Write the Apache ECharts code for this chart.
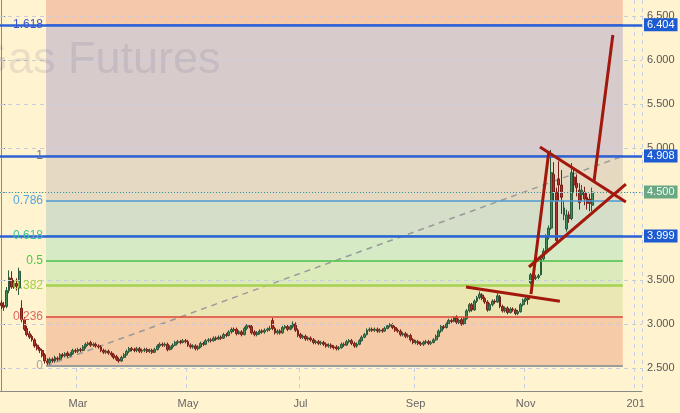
<!DOCTYPE html>
<html>
<head>
<meta charset="utf-8">
<script src="https://cdn.jsdelivr.net/npm/echarts@6/dist/echarts.min.js"></script>
<style>
html,body{margin:0;padding:0;background:#FFF3D0;}
#c{width:680px;height:413px;}
</style>
</head>
<body>
<div id="c"></div>
<script>
// ---------- DATA ----------
const startDate = '2018-01-18';
const endDate = '2019-01-03';
const tickDates = ['2018-03-01','2018-05-01','2018-07-02','2018-09-03','2018-11-01','2019-01-01'];
const tickLabels = ['Mar','May','Jul','Sep','Nov','201'];
const yTicks = [2.5,3,3.5,4,4.5,5,5.5,6,6.5];
const yMin = 2.239, yMax = 6.682;

// [open, close, low, high]
const candles = [
[3.24,3.21,3.17,3.27],[3.21,3.19,3.15,3.25],[3.20,3.38,3.18,3.42],[3.38,3.53,3.35,3.61],[3.52,3.42,3.40,3.60],
[3.43,3.46,3.40,3.50],[3.46,3.43,3.38,3.52],[3.41,3.60,3.33,3.64],[3.18,3.05,3.02,3.27],[3.05,2.94,2.92,3.08],
[2.95,2.88,2.86,2.98],[2.89,2.85,2.83,2.92],[2.86,2.82,2.80,2.88],[2.82,2.75,2.73,2.84],[2.76,2.72,2.70,2.78],
[2.72,2.70,2.67,2.74],[2.70,2.64,2.62,2.72],[2.65,2.58,2.55,2.67],[2.58,2.56,2.525,2.61],[2.56,2.60,2.54,2.62],
[2.60,2.58,2.56,2.62],[2.58,2.62,2.56,2.64],[2.61,2.60,2.58,2.63],[2.60,2.65,2.59,2.67],[2.65,2.64,2.62,2.67],
[2.64,2.66,2.62,2.68],[2.67,2.64,2.62,2.69],[2.64,2.66,2.63,2.68],[2.66,2.70,2.65,2.72],[2.70,2.69,2.67,2.72],
[2.69,2.71,2.67,2.73],[2.71,2.70,2.68,2.73],[2.70,2.74,2.69,2.76],[2.74,2.77,2.72,2.79],[2.77,2.78,2.75,2.80],
[2.79,2.76,2.74,2.81],[2.76,2.77,2.74,2.79],[2.77,2.75,2.73,2.79],[2.75,2.74,2.72,2.77],[2.74,2.70,2.68,2.76],
[2.70,2.68,2.66,2.72],[2.68,2.69,2.66,2.71],[2.69,2.67,2.65,2.71],[2.67,2.65,2.63,2.69],[2.65,2.62,2.60,2.67],
[2.63,2.60,2.58,2.65],[2.60,2.58,2.56,2.62],[2.58,2.62,2.57,2.64],[2.62,2.65,2.61,2.67],[2.65,2.69,2.64,2.71],
[2.69,2.72,2.67,2.74],[2.72,2.71,2.69,2.74],[2.71,2.70,2.68,2.73],[2.70,2.72,2.68,2.74],[2.72,2.69,2.67,2.74],
[2.69,2.70,2.67,2.72],[2.70,2.71,2.68,2.73],[2.71,2.69,2.67,2.73],[2.69,2.70,2.67,2.72],[2.70,2.68,2.66,2.72],
[2.68,2.71,2.67,2.73],[2.71,2.75,2.70,2.77],[2.75,2.77,2.73,2.79],[2.77,2.76,2.74,2.79],[2.76,2.77,2.74,2.79],
[2.77,2.71,2.69,2.79],[2.71,2.74,2.70,2.76],[2.74,2.76,2.72,2.78],[2.76,2.79,2.75,2.81],[2.79,2.80,2.77,2.82],
[2.80,2.79,2.77,2.82],[2.79,2.81,2.78,2.83],[2.81,2.80,2.78,2.83],[2.80,2.76,2.74,2.82],[2.76,2.74,2.72,2.78],
[2.74,2.75,2.72,2.77],[2.75,2.72,2.70,2.77],[2.72,2.74,2.70,2.76],[2.74,2.78,2.73,2.80],[2.78,2.77,2.75,2.80],
[2.77,2.81,2.76,2.83],[2.81,2.82,2.79,2.84],[2.82,2.81,2.79,2.84],[2.81,2.84,2.80,2.86],[2.84,2.83,2.81,2.86],
[2.83,2.85,2.82,2.87],[2.85,2.84,2.82,2.87],[2.84,2.88,2.83,2.90],[2.88,2.87,2.85,2.90],[2.87,2.91,2.86,2.93],
[2.91,2.94,2.89,2.96],[2.94,2.93,2.91,2.96],[2.94,2.89,2.87,2.96],[2.89,2.91,2.88,2.93],[2.91,2.88,2.86,2.93],
[2.88,2.95,2.87,2.97],[2.95,2.98,2.93,3.00],[2.98,2.97,2.95,3.00],[2.97,2.90,2.88,2.99],[2.91,2.88,2.86,2.93],
[2.88,2.90,2.86,2.92],[2.90,2.92,2.88,2.94],[2.92,2.91,2.89,2.94],[2.91,2.93,2.89,2.95],[2.93,2.94,2.91,2.96],
[2.94,2.95,2.92,2.98],[3.04,2.95,2.93,3.07],[2.95,2.90,2.88,2.97],[2.90,2.92,2.88,2.94],[2.92,2.90,2.88,2.94],
[2.90,2.96,2.89,2.98],[2.96,2.97,2.94,2.99],[2.97,2.94,2.92,2.99],[2.94,2.97,2.93,2.99],[2.97,3.00,2.95,3.03],
[3.00,2.93,2.91,3.02],[2.93,2.87,2.85,2.95],[2.88,2.85,2.83,2.90],[2.85,2.86,2.83,2.88],[2.86,2.83,2.81,2.88],
[2.83,2.84,2.81,2.86],[2.84,2.82,2.80,2.86],[2.82,2.79,2.77,2.84],[2.79,2.80,2.77,2.82],[2.80,2.78,2.76,2.82],
[2.78,2.79,2.76,2.81],[2.79,2.77,2.75,2.81],[2.77,2.75,2.73,2.79],[2.75,2.76,2.73,2.78],[2.76,2.74,2.72,2.78],
[2.74,2.73,2.71,2.76],[2.74,2.72,2.70,2.76],[2.72,2.73,2.70,2.75],[2.73,2.77,2.72,2.79],[2.77,2.76,2.74,2.79],
[2.76,2.80,2.75,2.82],[2.80,2.81,2.78,2.83],[2.81,2.78,2.76,2.83],[2.78,2.75,2.73,2.80],[2.75,2.77,2.73,2.79],
[2.77,2.81,2.76,2.83],[2.81,2.85,2.80,2.87],[2.85,2.88,2.84,2.90],[2.88,2.93,2.87,2.95],[2.93,2.94,2.91,2.96],
[2.94,2.93,2.91,2.96],[2.93,2.94,2.91,2.96],[2.94,2.92,2.90,2.96],[2.92,2.93,2.90,2.95],[2.93,2.92,2.90,2.95],
[2.92,2.95,2.91,2.97],[2.95,2.98,2.94,3.00],[2.98,2.99,2.96,3.01],[2.99,2.96,2.94,3.01],[2.96,2.93,2.91,2.98],
[2.93,2.92,2.90,2.95],[2.92,2.88,2.86,2.94],[2.88,2.89,2.86,2.91],[2.89,2.86,2.84,2.91],[2.86,2.87,2.84,2.89],
[2.87,2.82,2.80,2.89],[2.82,2.79,2.77,2.84],[2.79,2.80,2.77,2.82],[2.80,2.78,2.76,2.82],[2.78,2.77,2.75,2.80],
[2.77,2.79,2.75,2.81],[2.79,2.80,2.77,2.82],[2.80,2.78,2.76,2.82],[2.78,2.79,2.76,2.81],[2.79,2.82,2.78,2.84],
[2.82,2.86,2.81,2.88],[2.86,2.92,2.85,2.94],[2.92,2.97,2.90,2.99],[2.97,2.96,2.94,2.99],[2.96,3.00,2.95,3.02],
[3.00,3.04,2.99,3.06],[3.04,3.03,3.01,3.06],[3.03,3.07,3.02,3.09],[3.08,3.02,3.00,3.10],[3.02,3.04,3.00,3.06],
[3.05,3.00,2.98,3.07],[3.00,3.06,2.99,3.08],[3.06,3.15,3.05,3.17],[3.15,3.22,3.13,3.24],[3.22,3.16,3.14,3.24],
[3.16,3.26,3.15,3.28],[3.26,3.30,3.24,3.32],[3.30,3.34,3.28,3.37],[3.33,3.29,3.27,3.35],[3.29,3.25,3.23,3.31],
[3.25,3.16,3.14,3.27],[3.16,3.22,3.15,3.24],[3.22,3.26,3.20,3.28],[3.26,3.25,3.23,3.28],[3.25,3.32,3.24,3.36],
[3.31,3.20,3.18,3.33],[3.20,3.15,3.13,3.22],[3.15,3.18,3.13,3.20],[3.18,3.13,3.11,3.20],[3.13,3.17,3.12,3.19],
[3.17,3.16,3.14,3.19],[3.16,3.12,3.10,3.18],[3.12,3.14,3.10,3.16],[3.14,3.22,3.13,3.24],[3.22,3.27,3.20,3.29],
[3.27,3.29,3.25,3.31],[3.29,3.28,3.22,3.31],[3.47,3.56,3.45,3.58],[3.54,3.52,3.50,3.57],[3.52,3.53,3.50,3.56],
[3.53,3.55,3.51,3.57],[3.56,3.74,3.55,3.76],[3.74,3.83,3.72,3.86],[3.83,3.99,3.81,4.02],[3.99,4.09,3.96,4.12],
[4.09,4.72,4.07,4.98],[4.70,4.50,4.40,4.84],[4.50,3.95,3.90,4.55],[4.65,4.58,4.40,4.85],[4.58,4.44,4.25,4.75],
[4.24,4.32,4.18,4.40],[4.08,4.24,4.05,4.30],[4.24,4.20,4.15,4.28],[4.20,4.72,4.18,4.83],[4.67,4.58,4.50,4.78],
[4.60,4.55,4.45,4.70],[4.52,4.38,4.30,4.60],[4.47,4.52,4.40,4.58],[4.50,4.42,4.35,4.56],[4.44,4.37,4.30,4.50],
[4.42,4.37,4.28,4.48],[4.35,4.50,4.28,4.55]
];

// Fibonacci retracement drawing (bar-index span, level ratios, prices)
const fibStart = 17.5, fibEnd = 243;
const fibRatios = ['0','0.236','0.382','0.5','0.618','0.786','1','1.618'];
const fibPrices = [2.525, 3.087, 3.435, 3.716, 3.999, 4.399, 4.908, 6.404];
const fibLineColors = ['#9C9C9C','#D9473A','#A6D24E','#49C049','#3FB59A','#4D9AD3','#7D8598','#3A62D4'];
const fibLabelColors = ['#A3A3A3','#E0695C','#A2D046','#48C848','#3CC49E','#58A6DD','#6E7890','#3957CC'];
const fibBandColors = ['#F6CBA8','#EBE7B5','#DCEBBA','#D5EAC5','#D4DEC8','#E5D9C1','#D7CBCC','#F4C8A8'];

// marked price levels on the right scale
const priceMarks = [6.404, 4.908, 3.999];
const lastPrice = 4.500;

// hand-drawn trend lines: [[barIndex, price],[barIndex, price]]
const trendLines = [
  [[181.7,3.42],[218.4,3.26]],
  [[207.1,3.34],[214.1,4.966]],
  [[210.6,5.011],[244.2,4.386]],
  [[206.3,3.648],[244.2,4.591]],
  [[231.7,4.614],[239.1,6.284]]
];

// ---------- BUILD ----------
const dates = [];
{
  const d = new Date(startDate + 'T00:00:00Z');
  const end = new Date(endDate + 'T00:00:00Z');
  while (d <= end) {
    const wd = d.getUTCDay();
    if (wd !== 0 && wd !== 6) dates.push(d.toISOString().slice(0,10));
    d.setUTCDate(d.getUTCDate() + 1);
  }
}
const candleData = dates.map((_, i) => i < candles.length ? candles[i] : '-');
const isTick = (idx, val) => tickDates.indexOf(val) >= 0;
const FONT = 'Liberation Sans, Arial, sans-serif';

const bandData = [];
for (let k = 0; k < fibPrices.length; k++) {
  const lo = fibPrices[k];
  const hi = k + 1 < fibPrices.length ? fibPrices[k + 1] : yMax;
  bandData.push([
    { xAxis: fibStart, yAxis: lo, itemStyle: { color: fibBandColors[k], opacity: 1 } },
    { xAxis: fibEnd, yAxis: hi }
  ]);
}
const fibLineData = fibPrices.map((p, k) => [
  { coord: [fibStart, p],
    lineStyle: { color: fibLineColors[k], width: k === 2 ? 2.5 : (k === 0 ? 2 : 1.5), type: 'solid' },
    label: { show: true, position: 'start', formatter: fibRatios[k], color: fibLabelColors[k], fontSize: 12, fontFamily: FONT, distance: 3 } },
  { coord: [fibEnd, p] }
]);

const series = [
  { name: 'bands', type: 'line', xAxisIndex: 1, data: [], silent: true, z: 1,
    markArea: { silent: true, data: bandData } },
  { name: 'hgrid', type: 'line', xAxisIndex: 1, data: [], silent: true, z: 2,
    markLine: { silent: true, symbol: ['none','none'], label: { show: false },
      lineStyle: { color: '#C6CDE2', type: [4,4], width: 1 },
      data: yTicks.map(v => ({ yAxis: v })) } },
  { name: 'fib', type: 'line', xAxisIndex: 1, data: [], silent: true, z: 3,
    markLine: { silent: true, symbol: ['none','none'], data: fibLineData } },
  { name: 'diag', type: 'line', xAxisIndex: 1, silent: true, z: 3, symbol: 'none',
    data: [[fibStart, fibPrices[0]], [fibEnd, fibPrices[6]]],
    lineStyle: { color: '#9A9A9A', width: 1.5, type: [6,5] } },
  { name: 'NG', type: 'candlestick', xAxisIndex: 0, data: candleData, z: 4, barWidth: 2.4,
    itemStyle: { color: '#3F8C5C', color0: '#B3322A', borderColor: '#2A5A3C', borderColor0: '#7A1F18', borderWidth: 1 } },
  { name: 'marks', type: 'line', xAxisIndex: 1, data: [], silent: true, z: 6,
    markLine: { silent: true, symbol: ['none','none'],
      data: priceMarks.map(v => ({ yAxis: v,
        lineStyle: { color: '#2F62D6', width: 2.5, type: 'solid' },
        label: { show: true, position: 'end', formatter: v.toFixed(3), color: '#FFFFFF', backgroundColor: '#1C5BD2',
          fontSize: 11, fontFamily: FONT, padding: [1,3,1,3], distance: 2 } })).concat([
        { yAxis: lastPrice, lineStyle: { color: '#3E9C84', width: 1, type: [1,2] },
          label: { show: true, position: 'end', formatter: lastPrice.toFixed(3), color: '#F4FAF4', backgroundColor: '#6AA884',
            fontSize: 11, fontFamily: FONT, padding: [1,3,1,3], distance: 2 } }
      ]) } }
];
trendLines.forEach((seg, k) => {
  series.push({ name: 'trend' + k, type: 'line', xAxisIndex: 1, data: seg, symbol: 'none', silent: true, z: 7,
    lineStyle: { color: '#A3180C', width: 3 } });
});

const option = {
  backgroundColor: '#FFF3D0',
  animation: false,
  textStyle: { fontFamily: FONT },
  graphic: [
    { type: 'text', z: 100, silent: true, left: -27, top: 38,
      style: { text: 'Gas Futures', font: '45px ' + FONT, fill: 'rgba(120,104,140,0.16)' } }
  ],
  grid: { left: 0, right: 38, top: 0, bottom: 22 },
  xAxis: [
    { type: 'category', data: dates, boundaryGap: true,
      axisLine: { lineStyle: { color: '#8A8A8A', width: 1 } },
      axisTick: { interval: isTick, alignWithLabel: true, length: 4, lineStyle: { color: '#8A8A8A' } },
      axisLabel: { interval: isTick, formatter: v => tickLabels[tickDates.indexOf(v)], color: '#666', fontSize: 11, margin: 7, hideOverlap: false },
      splitLine: { show: true, interval: isTick, lineStyle: { color: '#C6CDE2', type: [4,4] } } },
    { type: 'value', min: -0.5, max: dates.length - 0.5, show: false }
  ],
  yAxis: {
    type: 'value', position: 'right', min: yMin, max: yMax, scale: true,
    axisLine: { show: true, lineStyle: { color: '#8A8A8A' } },
    axisTick: { show: true, customValues: yTicks, length: 4, lineStyle: { color: '#8A8A8A' } },
    axisLabel: { customValues: yTicks, formatter: v => v.toFixed(3), color: '#555', fontSize: 11, margin: 5 },
    splitLine: { show: false }
  },
  series: series
};
const chart = echarts.init(document.getElementById('c'), null, { renderer: 'canvas' });
chart.setOption(option);
</script>
</body>
</html>
